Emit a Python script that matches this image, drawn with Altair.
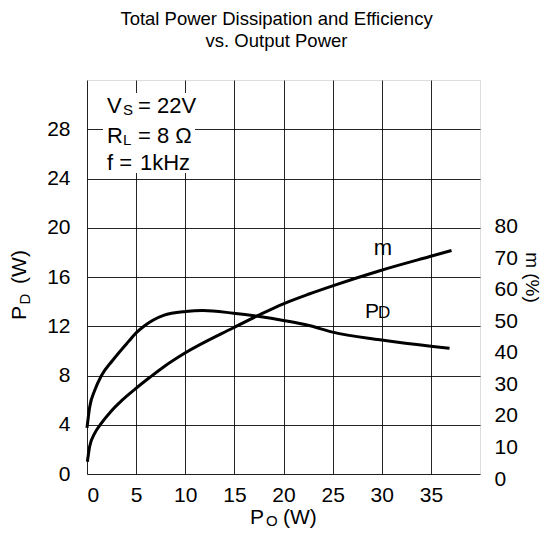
import altair as alt
import pandas as pd

FONT = "Liberation Sans"

# Total power dissipation P_D (W) vs output power P_O (W)
po_pd = [0.0, 0.27, 0.78, 1.46, 2.6, 4.17, 5.08, 5.76, 7.79, 10.03, 11.8, 14.9,
         17.55, 19.99, 22.6, 25.0, 29.8, 35.2, 36.9]
pd_w = [3.75, 5.43, 6.78, 7.98, 9.22, 10.71, 11.52, 11.98, 12.88, 13.2, 13.28, 13.06,
        12.79, 12.47, 12.06, 11.52, 10.9, 10.36, 10.22]

# Efficiency m (%) vs output power P_O (W)
po_eff = [0.04, 0.27, 0.78, 1.39, 2.48, 3.50, 4.92, 6.37, 7.90, 9.93, 14.9, 17.55,
          19.99, 22.6, 25.0, 29.8, 34.9, 37.1]
eff = [3.9, 8.7, 12.9, 15.8, 20.0, 23.2, 27.0, 30.6, 34.2, 38.3, 46.4, 50.5,
       54.0, 57.1, 59.7, 64.5, 69.0, 70.9]

x_ticks = [0, 5, 10, 15, 20, 25, 30, 35]
left_ticks = [0, 4, 8, 12, 16, 20, 24, 28]
right_ticks = [0, 10, 20, 30, 40, 50, 60, 70, 80]

title_lines = ["Total Power Dissipation and Efficiency", "vs. Output Power"]

W, H = 393, 394

df_pd = pd.DataFrame({"po": po_pd, "pd": pd_w})
df_eff = pd.DataFrame({"po": po_eff, "eff": eff})
one = pd.DataFrame({"k": [0]})

xscale = alt.Scale(domain=[0, 40], nice=False, zero=False)
xaxis = alt.Axis(values=x_ticks, grid=True, gridColor="black", gridWidth=1, gridOpacity=0.85,
                 ticks=False, tickSize=0, domain=False, labelFontSize=21, labelFont=FONT,
                 labelColor="black", labelPadding=10, title=None)

pd_line = alt.Chart(df_pd).mark_line(color="black", strokeWidth=3, interpolate="monotone").encode(
    x=alt.X("po:Q", scale=xscale, axis=xaxis),
    y=alt.Y("pd:Q", scale=alt.Scale(domain=[0, 32], nice=False, zero=False),
            axis=alt.Axis(values=left_ticks, grid=True, gridColor="black", gridWidth=1,
                          gridOpacity=0.85, ticks=False, tickSize=0, domain=False,
                          labelFontSize=21, labelFont=FONT, labelColor="black",
                          labelPadding=17, title=None)),
)

eff_line = alt.Chart(df_eff).mark_line(color="black", strokeWidth=3, interpolate="monotone").encode(
    x=alt.X("po:Q", scale=xscale, axis=xaxis),
    y=alt.Y("eff:Q", scale=alt.Scale(domain=[0, 125], nice=False, zero=False),
            axis=alt.Axis(orient="right", values=right_ticks, grid=False, ticks=False, tickSize=0,
                          domain=False, labelFontSize=21, labelFont=FONT, labelColor="black",
                          labelPadding=14, labelOffset=5, title="m (%)", titleAngle=90,
                          titleFontSize=19, titleFont=FONT, titleFontWeight="normal",
                          titleColor="black", titlePadding=4)),
)


def txt(s, x, y, size=21, align="left", baseline="alphabetic", angle=0):
    return alt.Chart(one).mark_text(
        text=s, fontSize=size, font=FONT, color="black", align=align,
        baseline=baseline, angle=angle
    ).encode(x=alt.value(x), y=alt.value(y))


box = alt.Chart(one).mark_rect(color="white").encode(
    x=alt.value(16), x2=alt.value(108), y=alt.value(13), y2=alt.value(93)
)

texts = [
    txt("V", 20, 33, 22), txt("S", 36, 35, 15), txt("= 22V", 51, 33, 22),
    txt("R", 20, 63, 22), txt("L", 36, 65, 15), txt("= 8 \u03a9", 51, 63, 22),
    txt("f =", 20, 90, 22), txt("1kHz", 53, 90, 22),
    txt("m", 296, 175, 22, align="center"),
    txt("P", 278, 238, 21), txt("D", 291, 238, 17),
    # x-axis title P_O (W)
    txt("P", 163, 444, 21), txt("O", 179, 446, 15), txt("(W)", 196, 444, 21),
    # y-axis title P_D (W)
    txt("P", -67, 233, 21, align="center", baseline="middle", angle=270),
    txt("D", -62, 219, 15, align="center", baseline="middle", angle=270),
    txt("(W)", -67, 187, 21, align="center", baseline="middle", angle=270),
]

chart = alt.layer(pd_line, eff_line, box, *texts).resolve_scale(y="independent").properties(
    width=W, height=H,
    autosize=alt.AutoSizeParams(type="none"),
    padding={"left": 79, "top": 72, "right": 66, "bottom": 55},
    title=alt.TitleParams(text=title_lines, fontSize=18.5, font=FONT, fontWeight="normal",
                          color="black", anchor="middle", frame="group", lineHeight=22,
                          offset=30, dx=-7),
).configure_view(stroke="black", strokeWidth=2).configure(background="white")

chart.save("out.html", embed_options={"renderer": "svg", "actions": False})
